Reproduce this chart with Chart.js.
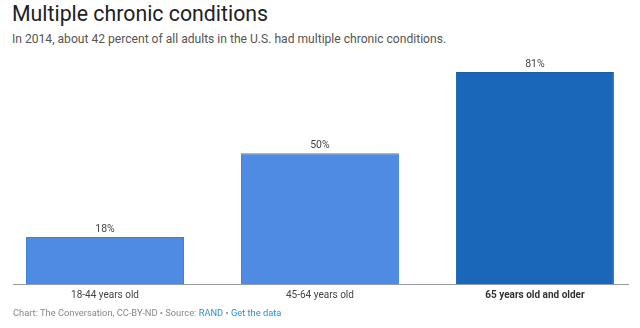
<!DOCTYPE html>
<html>
<head>
<meta charset="utf-8">
<script src="https://cdn.jsdelivr.net/npm/chart.js@4"></script>
<style>
  body { margin: 0; width: 640px; height: 328px; background: #fff; font-family: Roboto, sans-serif; position: relative; overflow: hidden; }
  #title { position: absolute; left: 12px; top: 1px; font-size: 21.3px; color: #222; }
  #subtitle { position: absolute; left: 12px; top: 32px; font-size: 12.1px; color: #555; }
  #wrap { position: absolute; left: 0; top: 50px; width: 640px; height: 265px; }
  #footer { position: absolute; left: 13px; top: 307px; font-size: 9.3px; color: #888; }
  #footer a { color: #2a8fd6; text-decoration: none; }
</style>
</head>
<body>
<div id="title">Multiple chronic conditions</div>
<div id="subtitle">In 2014, about 42 percent of all adults in the U.S. had multiple chronic conditions.</div>
<div id="wrap"><canvas id="chart"></canvas></div>
<div id="footer">Chart: The Conversation, CC-BY-ND • Source: <a>RAND</a> • <a>Get the data</a></div>
<script>
const categories = ["18-44 years old", "45-64 years old", "65 years old and older"];
const values = [18, 50, 81];
const barColors = ["#4f8be2", "#4f8be2", "#1a67b9"];
const borderColors = ["#3f7fdc", "#3f7fdc", "#1460b0"];

const valueLabels = {
  id: "valueLabels",
  afterDatasetsDraw(chart) {
    const ctx = chart.ctx;
    const meta = chart.getDatasetMeta(0);
    ctx.save();
    ctx.font = "10.5px Roboto, sans-serif";
    ctx.fillStyle = "#444";
    ctx.textAlign = "center";
    ctx.textBaseline = "middle";
    meta.data.forEach((bar, i) => {
      ctx.fillText(values[i] + "%", bar.x, bar.y - 8);
    });
    ctx.restore();
  }
};

new Chart(document.getElementById("chart"), {
  type: "bar",
  data: {
    datasets: [{
      data: values.map((v, i) => ({ x: i, y: v })),
      backgroundColor: barColors,
      borderColor: borderColors,
      borderWidth: 1,
      categoryPercentage: 1,
      barPercentage: 0.735
    }]
  },
  options: {
    responsive: true,
    maintainAspectRatio: false,
    animation: false,
    layout: { padding: { left: 13, right: 12, top: 11.6, bottom: 9 } },
    plugins: { legend: { display: false }, tooltip: { enabled: false } },
    scales: {
      x: {
        type: "linear",
        offset: false,
        min: -0.428,
        max: 2.433,
        afterBuildTicks(scale) {
          scale.ticks = categories.map((c, i) => ({ value: i }));
        },
        grid: { display: false, drawTicks: false },
        border: { display: true, color: "#999", width: 1 },
        ticks: {
          padding: 5,
          color: (c) => c.index === 2 ? "#333" : "#444",
          font: (c) => ({ family: "Roboto, sans-serif", size: 10, weight: c.index === 2 ? "bold" : "normal" }),
          callback: (v) => categories[v]
        }
      },
      y: {
        display: false,
        min: 0,
        max: 85
      }
    }
  },
  plugins: [valueLabels]
});
</script>
</body>
</html>
